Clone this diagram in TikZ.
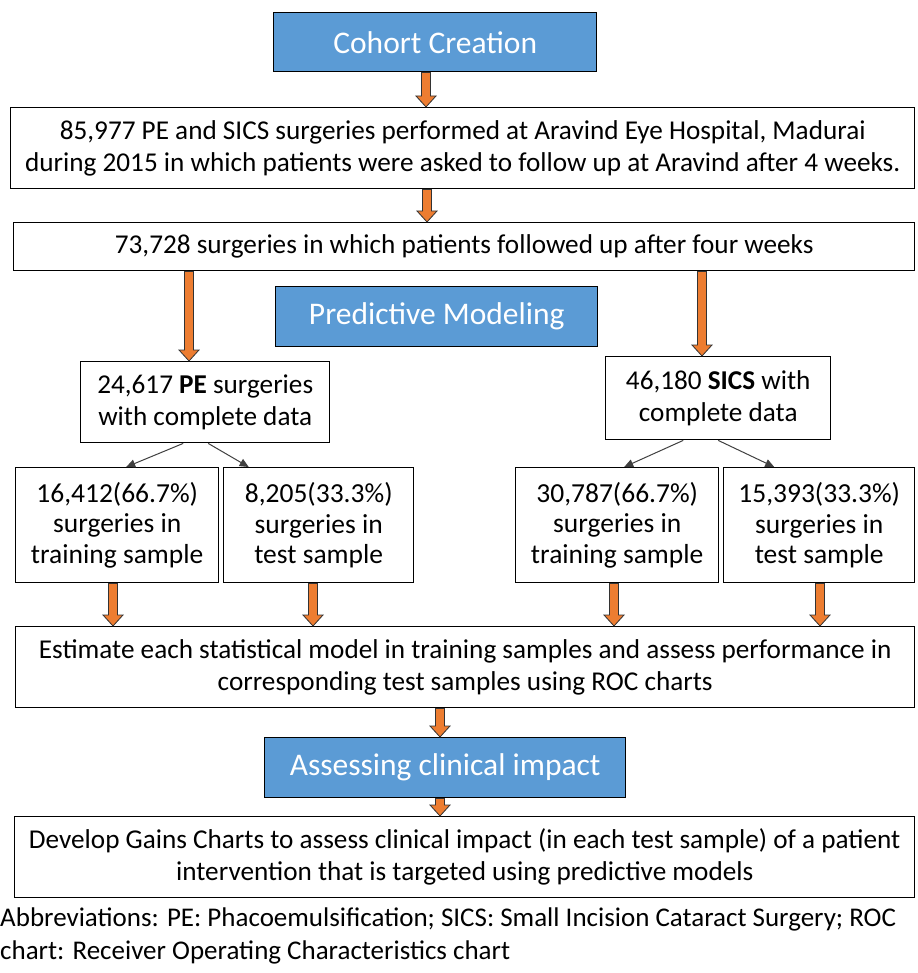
\documentclass[tikz,border=0pt]{standalone}
\usepackage{fontspec}
\setmainfont{Carlito}
\usetikzlibrary{arrows.meta,positioning,calc}
\definecolor{ccBlue}{HTML}{5B9BD5}
\definecolor{ccOrange}{HTML}{ED7D31}
\tikzset{
  stepbox/.style={
    draw, line width=1.4pt, align=center, inner sep=0pt, anchor=north west,
    font=\fontsize{27.2}{32}\selectfont
  },
  phase/.style={stepbox, fill=ccBlue, text=white, font=\fontsize{31.5}{32}\selectfont},
  samplebox/.style={stepbox, font=\fontsize{27.5}{30.5}\selectfont},
  split/.style={-{Triangle[length=9pt,width=8pt]}, line width=1pt, black!75},
  blockarrow/.style={draw=black!80, line width=0.8pt, fill=ccOrange},
  note/.style={anchor=west, align=left, inner sep=0pt, font=\fontsize{27}{33}\selectfont}
}
% orange block arrow at x=#1, from the bottom of #2 to the top of #3
\newcommand{\orangedown}[3]{%
  \draw[blockarrow] let \p1=(#1,0), \p2=(#2.south), \p3=(#3.north) in
    (\x1-4.5pt,\y2) -- (\x1-4.5pt,\y3+11pt) -- (\x1-10pt,\y3+11pt) -- (\x1,\y3)
    -- (\x1+10pt,\y3+11pt) -- (\x1+4.5pt,\y3+11pt) -- (\x1+4.5pt,\y2) -- cycle;}

\begin{document}
\begin{tikzpicture}[x=1pt, y=-1pt]
  \useasboundingbox (0,0) rectangle (917,973);
  \fill[white] (0,0) rectangle (917,973);

  % cohort creation
  \node[phase, minimum width=323, minimum height=59] (cohort) at (273,12) {Cohort Creation};
  \node[stepbox, minimum width=904, minimum height=81] (surg) at (10,107)
    {85,977 PE and SICS surgeries performed at Aravind Eye Hospital, Madurai\\
     during 2015 in which patients were asked to follow up at Aravind after 4 weeks.};
  \node[stepbox, minimum width=901, minimum height=48] (follow) at (13,222)
    {73,728 surgeries in which patients followed up after four weeks};

  % predictive modeling
  \node[phase, minimum width=322, minimum height=60] (model) at (275,286) {Predictive Modeling};
  \node[stepbox, minimum width=249, minimum height=81] (pe) at (80,361)
    {24,617 \textbf{PE} surgeries\\with complete data};
  \node[stepbox, minimum width=225, minimum height=83] (sics) at (605,356)
    {46,180 \textbf{SICS} with\\complete data};
  \node[samplebox, minimum width=203, minimum height=115] (petrain) at (15,467)
    {16,412(66.7\%)\\surgeries in\\training sample};
  \node[samplebox, minimum width=190, minimum height=115] (petest) at (223,467)
    {8,205(33.3\%)\\surgeries in\\test sample};
  \node[samplebox, minimum width=203, minimum height=115] (sicstrain) at (515,467)
    {30,787(66.7\%)\\surgeries in\\training sample};
  \node[samplebox, minimum width=191, minimum height=115] (sicstest) at (723,467)
    {15,393(33.3\%)\\surgeries in\\test sample};
  \node[stepbox, minimum width=899, minimum height=81] (estimate) at (15,626)
    {Estimate each statistical model in training samples and assess performance in\\
     corresponding test samples using ROC charts};

  % clinical impact
  \node[phase, minimum width=361, minimum height=60] (assess) at (264,737) {Assessing clinical impact};
  \node[stepbox, minimum width=900, minimum height=81] (gains) at (14,816)
    {Develop Gains Charts to assess clinical impact (in each test sample) of a patient\\
     intervention that is targeted using predictive models};
  \node[note] (abbr) at (0,936)
    {Abbreviations: PE: Phacoemulsification; SICS: Small Incision Cataract Surgery; ROC\\
     chart: Receiver Operating Characteristics chart};

  % orange arrows
  \orangedown{426}{cohort}{surg}
  \orangedown{427}{surg}{follow}
  \orangedown{189}{follow}{pe}
  \orangedown{702}{follow}{sics}
  \orangedown{113}{petrain}{estimate}
  \orangedown{313}{petest}{estimate}
  \orangedown{614}{sicstrain}{estimate}
  \orangedown{820}{sicstest}{estimate}
  \orangedown{440}{estimate}{assess}
  \orangedown{440}{assess}{gains}

  % split into training and test samples
  \draw[split] ([xshift=-22pt]pe.south) -- ([xshift=9pt]petrain.north);
  \draw[split] ([xshift=3pt]pe.south) -- ([xshift=-70pt]petest.north);
  \draw[split] ([xshift=-35pt]sics.south) -- ([xshift=7pt]sicstrain.north);
  \draw[split] (sics.south) -- ([xshift=-45pt]sicstest.north);
\end{tikzpicture}
\end{document}
